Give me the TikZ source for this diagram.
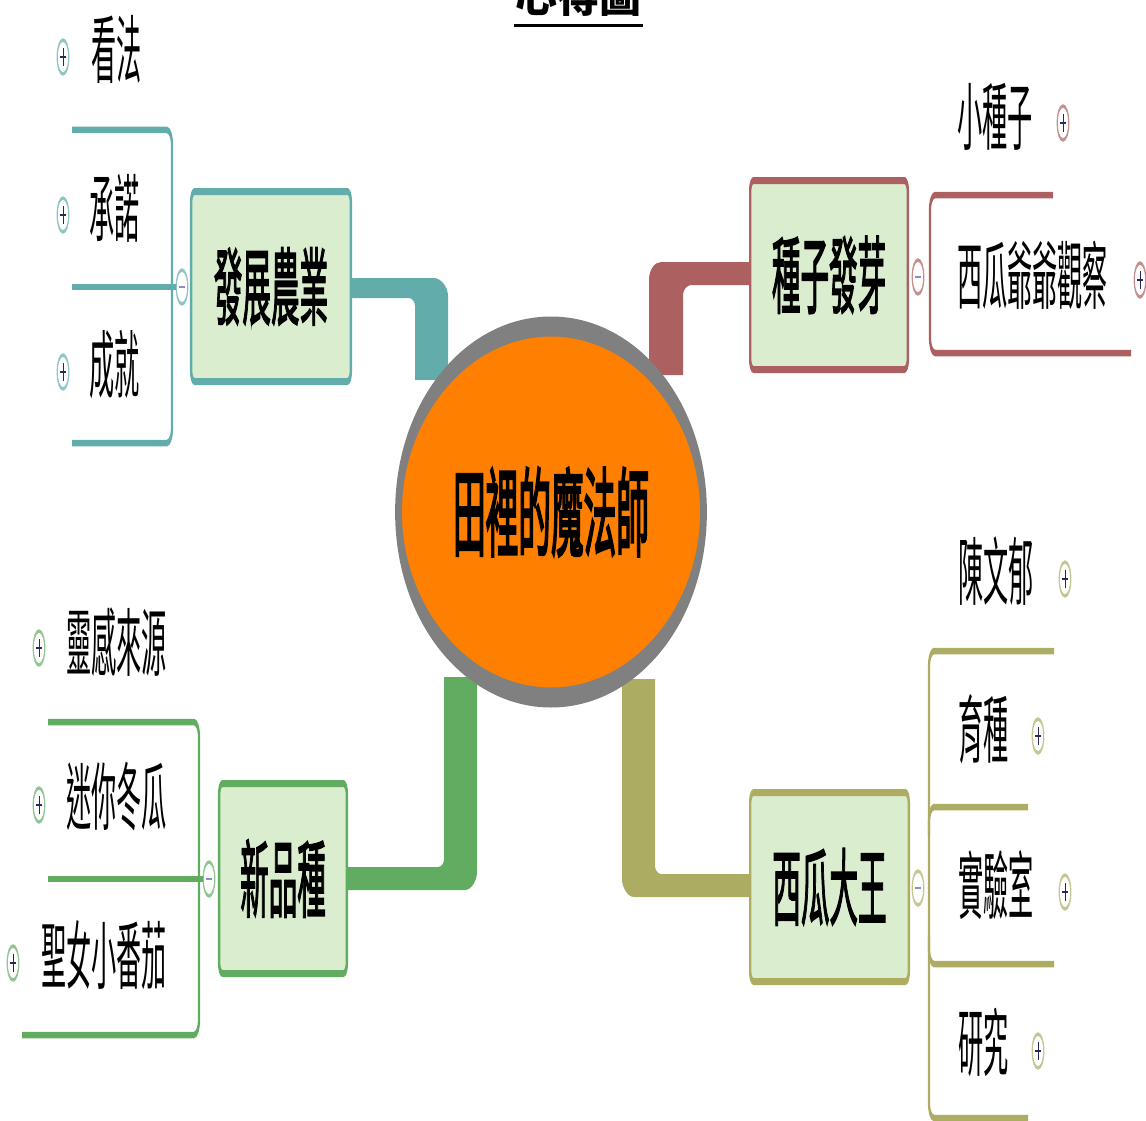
\documentclass[tikz,border=0pt]{standalone}
\usepackage{fontspec}
\setmainfont{Noto Sans CJK TC}
\newfontfamily\boxfont{Noto Sans CJK TC}[FakeBold=2.5]
\newfontfamily\centerfont{Noto Sans CJK TC}[FakeBold=3.5]
\usetikzlibrary{shapes.geometric}
\definecolor{cteal}{RGB}{98,172,172}
\definecolor{cred}{RGB}{172,96,96}
\definecolor{cgreen}{RGB}{98,172,98}
\definecolor{colive}{RGB}{172,172,98}
\definecolor{boxfill}{RGB}{218,237,206}
\definecolor{corange}{RGB}{255,128,0}
\definecolor{cgray}{RGB}{128,128,128}
\definecolor{plusc}{RGB}{40,40,95}
\definecolor{minusc}{RGB}{140,140,200}
\tikzset{
  topicbox/.style={rounded corners=10pt, fill=boxfill, line width=7pt, inner sep=0pt,
    font=\fontsize{84}{84}\boxfont},
  leaf/.style={inner sep=0pt, anchor=west, font=\fontsize{74}{74}\selectfont},
  plusicon/.style={circle, fill=white, line width=3.5pt, minimum size=34pt, inner sep=0pt,
    path picture={\draw[plusc, line width=2.5pt]
      (path picture bounding box.center) +(-8pt,0) -- +(8pt,0) +(0,-9pt) -- +(0,9pt);}},
  minusicon/.style={circle, fill=white, line width=3.5pt, minimum size=34pt, inner sep=0pt,
    path picture={\draw[minusc, line width=2.5pt]
      (path picture bounding box.center) +(-8pt,0) -- +(8pt,0);}},
  bracket/.style={line width=6.5pt, rounded corners=15pt},
}
\begin{document}
\begin{tikzpicture}[x=1pt,y=-1pt]
\useasboundingbox (0,0) rectangle (1146,1121);
% title (partly above the page, as in the reference)
\node[font=\fontsize{42}{42}\selectfont\bfseries, anchor=base, inner sep=0pt] (title) at (578,13) {心得圖};
\draw[line width=3pt] (514,25.5) -- (643,25.5);

\begin{scope}[transform canvas={xscale=0.34}, x=2.941176pt, y=-1pt]
% ---- thick connectors (drawn first) ----
\fill[cteal] (350,278) -- (434,278) .. controls (440.3,278) and (448,286.1) .. (448,296)
  -- (448,380) -- (415,380) -- (415,306) .. controls (415,302.4) and (412.3,298) .. (409,298)
  -- (350,298) -- cycle;
\fill[cred] (751,262) -- (661,262) .. controls (654.4,262) and (649,270.1) .. (649,280)
  -- (649,375) -- (683,375) -- (683,295) .. controls (683,290.5) and (686.6,285) .. (691,285)
  -- (751,285) -- cycle;
\fill[cgreen] (346,867) -- (438,867) .. controls (441.6,867) and (444,863.4) .. (444,859)
  -- (444,677) -- (477,677) -- (477,872) .. controls (477,880.1) and (471.6,890) .. (465,890)
  -- (346,890) -- cycle;
\fill[colive] (751,874) -- (661,874) .. controls (658.3,874) and (655,870.4) .. (655,866)
  -- (655,679) -- (622,679) -- (622,879) .. controls (622,887.1) and (627.4,897) .. (634,897)
  -- (751,897) -- cycle;

% ---- central topic ----
\node[ellipse, draw=cgray, fill=corange, line width=20pt, minimum width=897pt,
  minimum height=371pt, inner sep=0pt, font=\fontsize{96}{96}\centerfont]
  (ce) at (551,512) {\raisebox{4pt}{田裡的魔法師}};

% ---- main topics ----
\node[topicbox, draw=cteal, minimum width=469.5pt, minimum height=190pt] (b1) at (271,286.5) {\raisebox{2pt}{發展農業}};
\node[topicbox, draw=cred, minimum width=463.6pt, minimum height=189pt] (b2) at (829,275) {\raisebox{4pt}{種子發芽}};
\node[topicbox, draw=cgreen, minimum width=375.4pt, minimum height=190pt] (b3) at (283,878.5) {\raisebox{4pt}{新品種}};
\node[topicbox, draw=colive, minimum width=466.5pt, minimum height=189pt] (b4) at (829.5,887) {\raisebox{4pt}{西瓜大王}};

% ---- brackets ----
\draw[bracket, cteal] (72,130) -- (172,130) -- (172,443) -- (72,443);
\draw[bracket, cred] (1053,195) -- (930,195) -- (930,353) -- (1131,353);
\draw[bracket, cgreen] (48,722) -- (199,722) -- (199,1035) -- (22,1035);
\draw[bracket, colive] (1054,651) -- (929,651) -- (929,1118) -- (1028,1118);
\draw[bracket, colive] (1028,807) -- (929,807) -- (929,835);
\draw[bracket, colive] (1054,964) -- (929,964) -- (929,935);

% ---- collapse icons ----
\node[minusicon, draw=cteal!70] (m1) at (182,287) {};
\node[minusicon, draw=cred!70] (m2) at (918,277) {};
\node[minusicon, draw=cgreen!70] (m3) at (209,879) {};
\node[minusicon, draw=colive!70] (m4) at (918,888) {};
\draw[line width=6.5pt, cteal] (72,287) -- (m1.west);
\draw[line width=6.5pt, cgreen] (48,879) -- (m3.west);

% ---- leaves ----
\node[leaf] (l1) at (91,49) {看法};
\node[leaf] (l2) at (89,208) {承諾};
\node[leaf] (l3) at (89,365) {成就};
\node[leaf] (l4) at (957,117) {小種子};
\node[leaf] (l5) at (957,275) {西瓜爺爺觀察};
\node[leaf] (l6) at (66,642) {靈感來源};
\node[leaf] (l7) at (66,797) {迷你冬瓜};
\node[leaf] (l8) at (41,955) {聖女小番茄};
\node[leaf] (l9) at (958,571) {陳文郁};
\node[leaf] (l10) at (958,729) {育種};
\node[leaf] (l11) at (958,885) {實驗室};
\node[leaf] (l12) at (958,1042) {研究};

% ---- expand icons ----
\node[plusicon, draw=cteal!70] (p1) at (63,57) {};
\node[plusicon, draw=cteal!70] (p2) at (63,215) {};
\node[plusicon, draw=cteal!70] (p3) at (63,372) {};
\node[plusicon, draw=cred!70] (p4) at (1063,123) {};
\node[plusicon, draw=cred!70] (p5) at (1140,280) {};
\node[plusicon, draw=cgreen!70] (p6) at (39,648) {};
\node[plusicon, draw=cgreen!70] (p7) at (39,805) {};
\node[plusicon, draw=cgreen!70] (p8) at (13,963) {};
\node[plusicon, draw=colive!70] (p9) at (1065,579) {};
\node[plusicon, draw=colive!70] (p10) at (1038,736) {};
\node[plusicon, draw=colive!70] (p11) at (1065,892) {};
\node[plusicon, draw=colive!70] (p12) at (1038,1051) {};
\end{scope}
\end{tikzpicture}
\end{document}
